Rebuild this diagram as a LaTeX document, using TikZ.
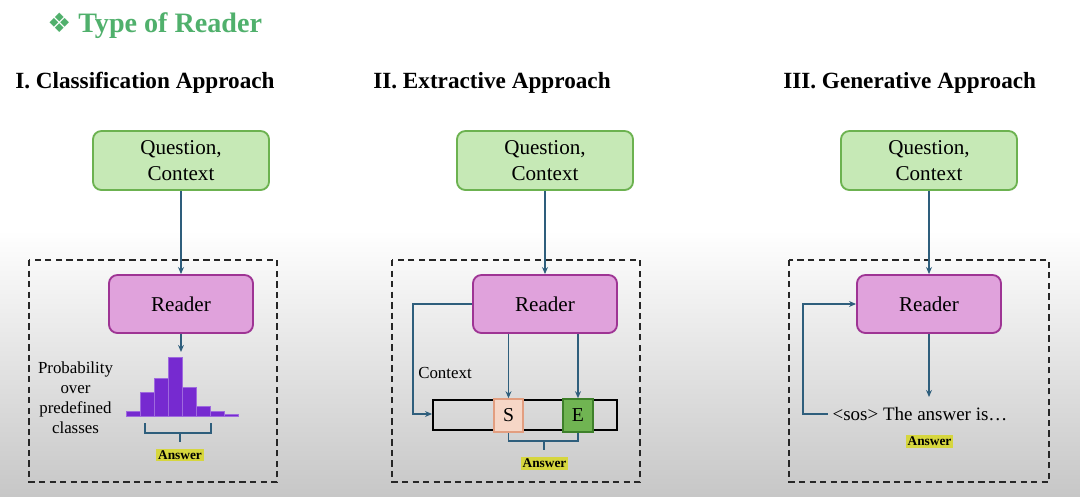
\documentclass[tikz,border=0pt]{standalone}
\usepackage{fontspec}
\setmainfont{Liberation Serif}
\newfontfamily\symfont{DejaVu Sans}
\usetikzlibrary{arrows.meta}

\definecolor{titlegreen}{RGB}{80,176,108}
\definecolor{qfill}{RGB}{198,233,182}
\definecolor{qdraw}{RGB}{108,178,80}
\definecolor{rfill}{RGB}{224,162,220}
\definecolor{rdraw}{RGB}{158,52,148}
\definecolor{flowblue}{RGB}{46,94,124}
\definecolor{barpurple}{RGB}{118,42,208}
\definecolor{sfill}{RGB}{246,214,198}
\definecolor{sdraw}{RGB}{226,158,128}
\definecolor{efill}{RGB}{112,180,82}
\definecolor{edraw}{RGB}{62,128,42}
\definecolor{ansyellow}{RGB}{214,214,62}

\begin{document}
\begin{tikzpicture}[x=0.025cm, y=-0.025cm,
				qbox/.style={draw=qdraw, fill=qfill, line width=1.3pt, rounded corners=6pt, minimum width=4.4cm, minimum height=1.475cm, align=center, font=\fontsize{15}{18}\selectfont},
				rbox/.style={draw=rdraw, fill=rfill, line width=1.3pt, rounded corners=6pt, minimum width=3.6cm, minimum height=1.45cm, font=\fontsize{15}{18}\selectfont},
				frame/.style={draw=black!85, dashed, dash pattern=on 4.5pt off 3pt, line width=0.9pt},
				flow/.style={draw=flowblue, line width=1.05pt, -{Stealth[length=5pt, width=4.2pt]}},
				brace/.style={draw=flowblue, line width=1.05pt},
				answer/.style={fill=ansyellow, inner sep=1.4pt, font=\fontsize{9.5}{10}\selectfont\bfseries},
				heading/.style={anchor=base west, inner sep=0pt, font=\fontsize{16.5}{19}\selectfont\bfseries},
				bar/.style={fill=barpurple, draw=barpurple!70!white, line width=0.3pt}
				]
				
				\useasboundingbox (0,0) rectangle (1080,496);
				\shade[top color=white, bottom color=black!22] (0,230) rectangle (1080,496);
				
				\node[anchor=base west, inner sep=0pt, text=titlegreen, font=\fontsize{20}{24}\selectfont\bfseries] (title) at (47,32) {{\symfont\fontsize{19}{22}\selectfont ❖}\ Type of Reader};
				\node[heading] (h1) at (15,88) {I. Classification Approach};
				\node[heading] (h2) at (373,88) {II. Extractive Approach};
				\node[heading] (h3) at (783,88) {III. Generative Approach};
				
				% classification
				\draw[frame] (29,260) rectangle (277,482);
				\node[qbox] (q1) at (181,160.5) {Question,\\Context};
				\node[rbox] (r1) at (181,304) {Reader};
				\draw[flow] (q1) -- (r1);
				\coordinate (hist) at (181,352);
				\draw[flow] (r1) -- (hist);
				\foreach \x/\top in {126/411.5, 140/392.5, 154/378.5, 168/357.5, 182/387, 196/406.5, 210/411.5}
					\draw[bar] (\x,416.5) rectangle ++(14,\top-416.5);
				\draw[bar] (224,416.5) rectangle (238,414.5);
				\node[align=center, font=\fontsize{12}{14.2}\selectfont] (prob) at (75.5,398) {Probability\\over\\predefined\\classes};
				\draw[brace] (145,423) -- (145,433) -- (211,433) -- (211,423);
				\draw[brace] (180,433) -- (180,442);
				\node[answer] (a1) at (180,455) {Answer};
				
				% extractive
				\draw[frame] (392,260) rectangle (640,482);
				\node[qbox] (q2) at (545,160.5) {Question,\\Context};
				\node[rbox] (r2) at (545,304) {Reader};
				\draw[flow] (q2) -- (r2);
				\node[draw=black, line width=1.3pt, minimum width=4.6cm, minimum height=0.75cm] (seq) at (525,415) {};
				\node[draw=sdraw, fill=sfill, line width=1.2pt, minimum width=0.72cm, minimum height=0.82cm, font=\fontsize{14}{16}\selectfont] (s) at (508.5,415.5) {S};
				\node[draw=edraw, fill=efill, line width=1.2pt, minimum width=0.74cm, minimum height=0.82cm, font=\fontsize{14}{16}\selectfont] (e) at (578,415.5) {E};
				\draw[flow] (r2.south -| s) -- (s);
				\draw[flow] (r2.south -| e) -- (e);
				\draw[flow] (r2.west |- 0,304) -| (413,414) -- (seq.west |- 0,414);
				\node[font=\fontsize{12}{14}\selectfont] (ctx) at (445,373) {Context};
				\draw[brace] (s.south) -- (508.5,441) -- (578,441) -- (e.south);
				\draw[brace] (544,441) -- (544,450);
				\node[answer] (a2) at (544.5,463.5) {Answer};
				
				% generative
				\draw[frame] (789,260) rectangle (1049,482);
				\node[qbox] (q3) at (929,160.5) {Question,\\Context};
				\node[rbox] (r3) at (929,304) {Reader};
				\draw[flow] (q3) -- (r3);
				\node[font=\fontsize{13.5}{16}\selectfont] (gen) at (920,414) {<sos> The answer is…};
				\draw[flow] (r3) -- (r3.south |- 0,397);
				\draw[flow] (gen.west) -| (803,304) -- (r3.west);
				\node[answer] (a3) at (929.5,441.5) {Answer};
				
			\end{tikzpicture}
\end{document}
